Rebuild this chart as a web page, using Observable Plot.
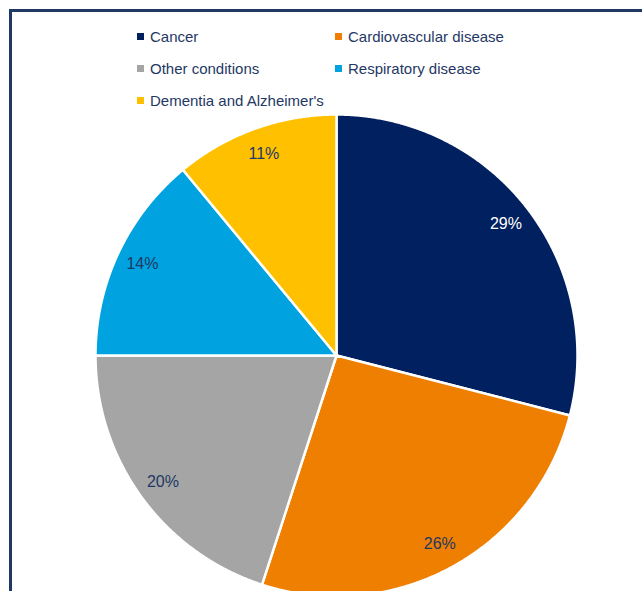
<!DOCTYPE html>
<html>
<head>
<meta charset="utf-8">
<script src="https://cdn.jsdelivr.net/npm/d3@7"></script>
<script src="https://cdn.jsdelivr.net/npm/@observablehq/plot@0.6"></script>
<style>
  html, body { margin: 0; padding: 0; background: #fff; }
  #wrap { position: relative; width: 642px; height: 591px; overflow: hidden; font-family: "Liberation Sans", Arial, sans-serif; }
  #frame { position: absolute; left: 9px; top: 9px; width: 700px; height: 700px; border: 3px solid #1F3864; box-sizing: border-box; }
  #legend { position: absolute; left: 137px; top: 26px; display: grid; grid-template-columns: 198px 220px; row-gap: 12px; }
  .item { display: flex; align-items: center; font-size: 15px; color: #1F3864; height: 20px; white-space: nowrap; }
  .sw { width: 7px; height: 7px; margin-right: 6px; flex: none; }
  #pie { position: absolute; left: 95px; top: 114px; }
</style>
</head>
<body>
<div id="wrap">
  <div id="frame"></div>
  <div id="legend"></div>
  <div id="pie"></div>
</div>
<script>
const categories = ["Cancer", "Cardiovascular disease", "Other conditions", "Respiratory disease", "Dementia and Alzheimer's"];
const shares = [29, 26, 20, 14, 11];
const labels = ["29%", "26%", "20%", "14%", "11%"];
const colors = ["#002060", "#EE7F00", "#A5A5A5", "#00A2E0", "#FFC000"];
const labelColors = ["#FFFFFF", "#1F3864", "#1F3864", "#1F3864", "#1F3864"];

// Legend
const legend = document.getElementById("legend");
categories.forEach((c, i) => {
  const d = document.createElement("div");
  d.className = "item";
  d.innerHTML = `<span class="sw" style="background:${colors[i]}"></span><span>${c}</span>`;
  legend.appendChild(d);
});

// Pie geometry (unit circle), clockwise from 12 o'clock
const arcs = d3.pie().sort(null).value(d => d.v)(categories.map((c, i) => ({c, v: shares[i], i})));
const pts = [];
const labs = [];
arcs.forEach(a => {
  const name = a.data.c;
  pts.push({name, x: 0, y: 0});
  const n = Math.max(2, Math.ceil((a.endAngle - a.startAngle) / 0.005));
  for (let k = 0; k <= n; k++) {
    const t = a.startAngle + (a.endAngle - a.startAngle) * k / n;
    pts.push({name, x: Math.sin(t), y: Math.cos(t)});
  }
  pts.push({name, x: 0, y: 0});
  const m = (a.startAngle + a.endAngle) / 2;
  labs.push({name, x: 0.89 * Math.sin(m), y: 0.89 * Math.cos(m), label: labels[a.data.i], col: labelColors[a.data.i]});
});

const R = 241;
const chart = Plot.plot({
  width: 2 * R,
  height: 2 * R,
  margin: 0,
  x: {domain: [-1, 1], axis: null},
  y: {domain: [-1, 1], axis: null},
  color: {domain: categories, range: colors},
  style: {background: "transparent", overflow: "visible"},
  marks: [
    Plot.line(pts, {x: "x", y: "y", z: "name", fill: "name", stroke: "white", strokeWidth: 2.5, curve: "linear", strokeLinejoin: "round"}),
    Plot.text(labs, {x: "x", y: "y", text: "label", fill: "col", fontSize: 16, fontFamily: "Liberation Sans, Arial, sans-serif"})
  ]
});
document.getElementById("pie").appendChild(chart);
</script>
</body>
</html>
